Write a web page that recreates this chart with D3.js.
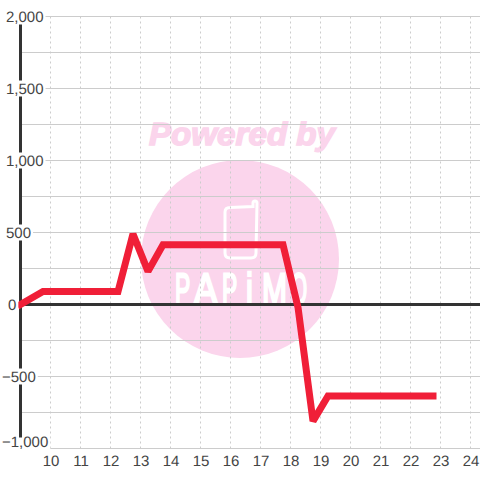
<!DOCTYPE html>
<html>
<head>
<meta charset="utf-8">
<script src="https://cdn.jsdelivr.net/npm/d3@7"></script>
<style>
body { margin:0; background:#fff; }
text { font-family:"Liberation Sans"; text-rendering:geometricPrecision; }
</style>
</head>
<body>
<div id="chart"></div>
<script>
var hours = [9, 9.75, 12.25, 12.75, 13.25, 13.75, 17.75, 18.25, 18.75, 19.25, 22.75];
var values = [0, 90, 90, 490, 230, 415, 415, -20, -810, -635, -635];
var xTicks = [10,11,12,13,14,15,16,17,18,19,20,21,22,23,24];
var yTicks = [2000,1500,1000,500,0,-500,-1000];
var yMinorTicks = [1750,1250,750,250,-250,-750];
var logoLetters = ["P","A","P","i","M","O"];

var x = d3.scaleLinear().domain([9,24]).range([20.5,470.5]);
var y = d3.scaleLinear().domain([-1000,2000]).range([448.5,16.5]);
var svg = d3.select("#chart").append("svg").attr("width",480).attr("height",480).style("display","block");

// watermark sits under the grid
var mark = svg.append("g");
mark.append("circle").attr("cx",240).attr("cy",259).attr("r",99).attr("fill","#fbd5ec");
mark.append("text").attr("x",242).attr("y",145).attr("text-anchor","middle")
	.attr("font-size",32).attr("font-weight","bold").attr("font-style","italic")
	.attr("textLength",186).attr("lengthAdjust","spacingAndGlyphs")
	.attr("fill","#fbd5ec").attr("stroke","#fbd5ec").attr("stroke-width",1.5).text("Powered by");
mark.append("path")
	.attr("d","M230,207.5 L253,206.5 L253,203 Q253,201 255,201 Q257,201 257,203 L256,253 Q256,258 251,258 L230,258 Q225,258 225,253 L225,212 Q225,207.5 230,207.5 Z")
	.attr("fill","none").attr("stroke","#fff").attr("stroke-width",3);
// letters squeezed one by one to get the narrow logo shape
mark.selectAll(".logo").data([[175,0.52],[194,0.8],[222,0.52],[246,0.7],[262,0.68],[291,0.47]]).enter().append("text")
	.attr("class","logo").attr("transform",d=>"translate("+d[0]+",304) scale("+d[1]+",1)")
	.attr("font-size",44).attr("fill","#fff").attr("stroke","#fff").attr("stroke-width",2.5)
	.style("vector-effect","non-scaling-stroke")
	.text((d,i)=>logoLetters[i]);

// grid
svg.append("g").selectAll("line").data(xTicks).enter().append("line")
	.attr("x1",d=>x(d)).attr("x2",d=>x(d)).attr("y1",y(2000)).attr("y2",y(-1000))
	.attr("stroke","#ccc").attr("stroke-dasharray","2,3");
svg.append("g").selectAll("line").data(yTicks.concat(yMinorTicks)).enter().append("line")
	.attr("x1",x(9)).attr("x2",480).attr("y1",d=>y(d)).attr("y2",d=>y(d))
	.attr("stroke","#ccc").attr("stroke-width",1);

// axis lines
svg.append("line").attr("x1",x(9)).attr("x2",x(9)).attr("y1",y(2000)).attr("y2",y(-1000))
	.attr("stroke","#333").attr("stroke-width",3);
svg.append("line").attr("x1",x(9)).attr("x2",480).attr("y1",y(0)).attr("y2",y(0))
	.attr("stroke","#333").attr("stroke-width",3);

// series
var line = d3.line().x((d,i)=>x(hours[i])).y(d=>y(d));
svg.append("path").datum(values).attr("d",line).attr("fill","none")
	.attr("stroke","#f01f38").attr("stroke-width",7)
	.attr("stroke-linecap","square").attr("stroke-miterlimit",2);

// y labels with white box behind them
var fmt = d3.format(",");
var yLab = svg.append("g").selectAll("g").data(yTicks).enter().append("g")
	.attr("transform",d=>"translate("+(d<0?2:d==0?8:6)+","+(d==-1000?y(d)-3:y(d))+")");
var yBox = yLab.append("rect").attr("fill","#fff");
var yTxt = yLab.append("text").attr("font-size",15).attr("fill","#444").attr("dy",d=>d==-1000?"0.1em":"0.35em").text(d=>fmt(d));
yBox.each(function(d,i){
	var w = yTxt.nodes()[i].getComputedTextLength();
	d3.select(this).attr("x",-2).attr("y",-8).attr("width",w+4).attr("height",16);
});

// x labels
svg.append("g").selectAll("text").data(xTicks).enter().append("text")
	.attr("x",d=>x(d)+0.5).attr("y",466).attr("text-anchor","middle")
	.attr("font-size",15).attr("fill","#444").text(d=>d);
</script>
</body>
</html>
